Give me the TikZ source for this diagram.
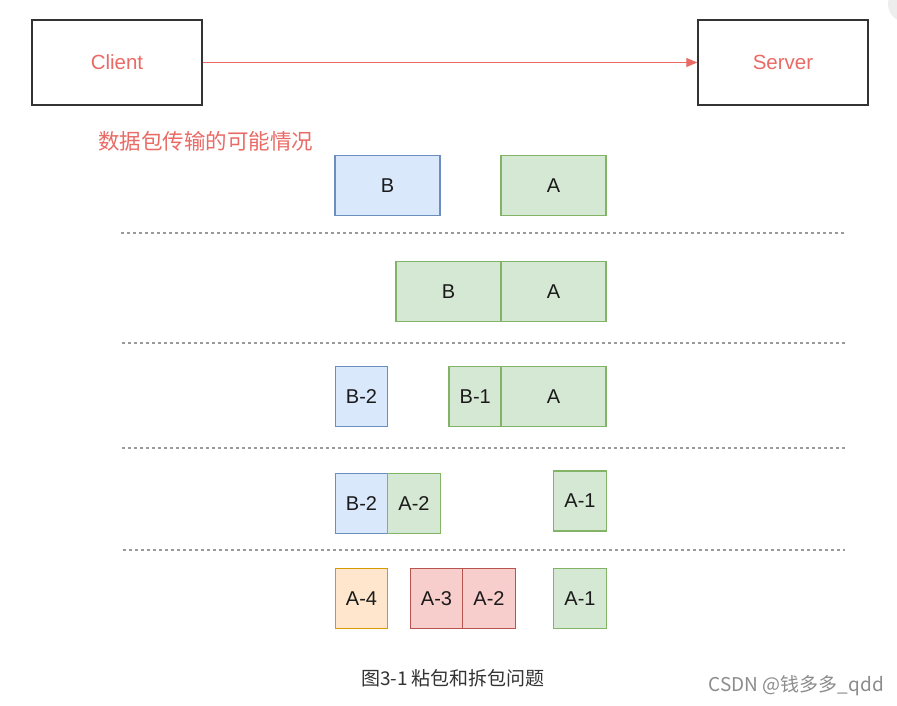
\documentclass[tikz,border=0pt]{standalone}
\usepackage{fontspec}
\setmainfont{Liberation Sans}
\newfontfamily\cjk{Noto Sans CJK SC}
\usetikzlibrary{arrows.meta}
\definecolor{redtxt}{HTML}{EA6B66}
\definecolor{bluefill}{HTML}{DAE8FC}\definecolor{bluedraw}{HTML}{6C8EBF}
\definecolor{greenfill}{HTML}{D5E8D4}\definecolor{greendraw}{HTML}{82B366}
\definecolor{orangefill}{HTML}{FFE6CC}\definecolor{orangedraw}{HTML}{D79B00}
\definecolor{redfill}{HTML}{F8CECC}\definecolor{reddraw}{HTML}{B85450}
\definecolor{txtdark}{HTML}{1A1A1A}
\definecolor{sepgray}{HTML}{9A9A9A}
\tikzset{
  endbox/.style={draw=black!80, line width=1.4pt, minimum width=170pt, minimum height=85pt, inner sep=0pt, text=redtxt, font=\fontsize{20.5}{24}\selectfont},
  pkt/.style={line width=1.2pt, minimum height=60pt, inner sep=0pt, text=txtdark, font=\fontsize{20}{24}\selectfont},
  bluepkt/.style={pkt, draw=bluedraw, fill=bluefill},
  greenpkt/.style={pkt, draw=greendraw, fill=greenfill},
  orangepkt/.style={pkt, draw=orangedraw, fill=orangefill},
  redpkt/.style={pkt, draw=reddraw, fill=redfill},
  sepline/.style={draw=sepgray, line width=1.2pt, dash pattern=on 3pt off 3pt},
  wide/.style={minimum width=105pt},
  narrow/.style={minimum width=52.5pt},
}
\begin{document}
\begin{tikzpicture}[x=1pt,y=-1pt]
\useasboundingbox[fill=white] (0,0) rectangle (897,706);
\begin{scope}
\clip (0,0) rectangle (897,706);
\fill[black!7] (906,4) circle (18);
\end{scope}
% endpoints
\node[endbox] (client) at (117,62.5) {Client};
\node[endbox] (server) at (783,62.5) {Server};
\draw[redtxt, line width=1pt, -{Triangle[length=11pt,width=9pt]}] (client) -- (server);
\node[text=redtxt, font=\cjk\fontsize{21.5}{25}\selectfont, anchor=west, inner sep=0pt] (title) at (98,141) {数据包传输的可能情况};
% row 1
\node[bluepkt, wide] (r1b) at (387.5,185.5) {B};
\node[greenpkt, wide] (r1a) at (553.5,185.5) {A};
% row 2
\node[greenpkt, wide] (r2b) at (448.5,291.5) {B};
\node[greenpkt, wide] (r2a) at (553.5,291.5) {A};
% row 3
\node[bluepkt, narrow] (r3b2) at (361.5,396.5) {B-2};
\node[greenpkt, narrow] (r3b1) at (475.25,396.5) {B-1};
\node[greenpkt, wide] (r3a) at (553.5,396.5) {A};
% row 4
\node[bluepkt, narrow] (r4b2) at (361.5,503.5) {B-2};
\node[greenpkt, narrow] (r4a2) at (414,503.5) {A-2};
\node[greenpkt, narrow] (r4a1) at (580,501) {A-1};
% row 5
\node[orangepkt, narrow] (r5a4) at (361.5,598.5) {A-4};
\node[redpkt, narrow] (r5a3) at (436.5,598.5) {A-3};
\node[redpkt, narrow] (r5a2) at (489,598.5) {A-2};
\node[greenpkt, narrow] (r5a1) at (580,598.5) {A-1};
% separators
\coordinate (s1l) at (121,233); \coordinate (s1r) at (845,233);
\coordinate (s2l) at (122,343); \coordinate (s2r) at (845,343);
\coordinate (s3l) at (122,448); \coordinate (s3r) at (845,448);
\coordinate (s4l) at (123,550); \coordinate (s4r) at (845,550);
\draw[sepline] (s1l) -- (s1r);
\draw[sepline] (s2l) -- (s2r);
\draw[sepline] (s3l) -- (s3r);
\draw[sepline] (s4l) -- (s4r);
% caption
\node[text=black!80, font=\cjk\fontsize{19}{22}\selectfont, inner sep=0pt] (caption) at (453,678) {图3-1 粘包和拆包问题};
\node[text=black!45, font=\cjk\fontsize{19}{22}\selectfont, anchor=east, inner sep=0pt] (mark) at (884,686) {CSDN @钱多多\_qdd};
\end{tikzpicture}
\end{document}
